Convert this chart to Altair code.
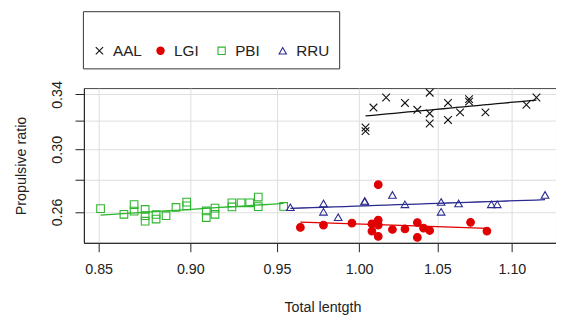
import altair as alt
import pandas as pd

groups = ["AAL", "LGI", "PBI", "RRU"]

aal_x = [1.004, 1.004, 1.009, 1.017, 1.029, 1.037, 1.045, 1.045, 1.045, 1.057, 1.057, 1.065, 1.071, 1.071, 1.082, 1.110, 1.117]
aal_y = [0.3153, 0.3127, 0.3300, 0.3377, 0.3335, 0.3283, 0.3414, 0.3256, 0.3182, 0.3335, 0.3208, 0.3264, 0.3364, 0.3345, 0.3264, 0.3321, 0.3377]

lgi_x = [0.964, 0.978, 0.9955, 1.008, 1.008, 1.012, 1.012, 1.012, 1.012, 1.021, 1.029, 1.037, 1.037, 1.041, 1.045, 1.072, 1.083]
lgi_y = [0.2510, 0.2523, 0.2535, 0.2530, 0.2489, 0.2767, 0.2552, 0.2523, 0.2459, 0.2498, 0.2501, 0.2538, 0.2453, 0.2506, 0.2492, 0.2539, 0.2489]

pbi_x = [0.851, 0.8635, 0.869, 0.869, 0.875, 0.875, 0.875, 0.881, 0.881, 0.8865, 0.892, 0.898, 0.898,
         0.909, 0.909, 0.914, 0.914, 0.9237, 0.9237, 0.929, 0.934, 0.939, 0.939, 0.954]
pbi_y = [0.2620, 0.2586, 0.2644, 0.2605, 0.2615, 0.2578, 0.2546, 0.2585, 0.2558, 0.2578, 0.2627, 0.2659, 0.2637,
         0.2606, 0.2567, 0.2623, 0.2586, 0.2655, 0.2630, 0.2655, 0.2655, 0.2690, 0.2632, 0.2633]

rru_x = [0.958, 0.978, 0.978, 0.987, 1.0035, 1.0035, 1.021, 1.029, 1.0525, 1.0525, 1.064, 1.086, 1.090, 1.123]
rru_y = [0.2628, 0.2651, 0.2601, 0.2569, 0.2666, 0.2662, 0.2703, 0.2646, 0.2660, 0.2601, 0.2651, 0.2646, 0.2646, 0.2703]

x_ticks = [0.85, 0.90, 0.95, 1.00, 1.05, 1.10]
y_ticks = [0.26, 0.28, 0.30, 0.32, 0.34]
y_labels = ["0.26", "0.30", "0.34"]

rows = []
for g, xs, ys in [("AAL", aal_x, aal_y), ("LGI", lgi_x, lgi_y), ("PBI", pbi_x, pbi_y), ("RRU", rru_x, rru_y)]:
    for a, b in zip(xs, ys):
        rows.append({"g": g, "x": a, "y": b})
df = pd.DataFrame(rows)

FONT = "Liberation Sans"
point_colors = ["#111111", "#e00000", "#2db52d", "#2a2a90"]
fill_colors = ["transparent", "#e00000", "transparent", "transparent"]
shapes = ["M-1,-1L1,1M-1,1L1,-1", "circle", "square", "triangle-up"]

xscale = alt.Scale(type="log", domain=[0.8422, 1.1307], nice=False, zero=False)
yscale = alt.Scale(type="log", domain=[0.2423, 0.3450], nice=False, zero=False)
cscale = alt.Scale(domain=groups, range=point_colors)

label_expr = "indexof(" + str(y_labels) + ", format(datum.value, '.2f')) >= 0 ? format(datum.value, '.2f') : ''"

xaxis = alt.Axis(values=x_ticks, format=".2f", title="Total lentgth", grid=True, gridColor="#dddddd",
                 tickSize=9, tickColor="#222", domainColor="#222", labelPadding=11, labelFontSize=14.5,
                 labelFont=FONT, labelColor="#222", titleFont=FONT, titleFontSize=14.5, titleFontWeight="normal",
                 titleColor="#222", titleX=242, titleY=66, titleAlign="center", titleBaseline="middle",
                 labelFlush=False, labelOverlap=False)
yaxis = alt.Axis(values=y_ticks, labelExpr=label_expr, title="Propulsive ratio", grid=True, gridColor="#dddddd",
                 tickSize=9, tickColor="#222", domainColor="#222", labelPadding=14, labelFontSize=14.5,
                 labelAngle=-90, labelAlign="center", labelBaseline="alphabetic",
                 labelFont=FONT, labelColor="#222", titleFont=FONT, titleFontSize=14.5, titleFontWeight="normal",
                 titleColor="#222", titleAngle=-90, titleX=-63, titleY=78.5, titleAlign="center",
                 titleBaseline="middle", labelFlush=False, labelOverlap=False)

legend = alt.Legend(title=" ", orient="none", legendX=-1, legendY=-78, direction="horizontal", columns=4,
                    gridAlign="all", strokeColor="#333333", fillColor="white", padding=9,
                    titleFontSize=14, titlePadding=9, labelFont=FONT, labelFontSize=15.5, labelColor="#222",
                    labelOffset=6, columnPadding=6, symbolSize=55, symbolStrokeWidth=1.1)

points = alt.Chart(df).mark_point(filled=False, size=60, strokeWidth=1.1, opacity=1).encode(
    x=alt.X("x:Q", scale=xscale, axis=xaxis),
    y=alt.Y("y:Q", scale=yscale, axis=yaxis),
    color=alt.Color("g:N", scale=cscale, legend=legend),
    fill=alt.Fill("g:N", scale=alt.Scale(domain=groups, range=fill_colors), legend=legend),
    shape=alt.Shape("g:N", scale=alt.Scale(domain=groups, range=shapes), legend=legend),
)

lines = alt.Chart(df).transform_regression("x", "y", method="pow", groupby=["g"]).mark_line(strokeWidth=1.3).encode(
    x=alt.X("x:Q", scale=xscale),
    y=alt.Y("y:Q", scale=yscale),
    color=alt.Color("g:N", scale=cscale, legend=legend),
)

chart = alt.layer(lines, points).properties(
    width=479, height=157,
    autosize=alt.AutoSizeParams(type="none"),
    padding={"left": 77, "top": 79, "right": 0, "bottom": 74},
    background="white",
).configure_view(
    stroke="#444444", strokeWidth=1
).configure_legend(
    gridAlign="all", strokeColor="#333333", fillColor="white", padding=9,
    titleFontSize=14, titlePadding=9, labelFont=FONT, labelFontSize=15.5, labelColor="#222",
    labelOffset=6, columnPadding=6, symbolSize=55, symbolStrokeWidth=1.1
)

chart.save("out.html", embed_options={"renderer": "svg", "actions": False})
